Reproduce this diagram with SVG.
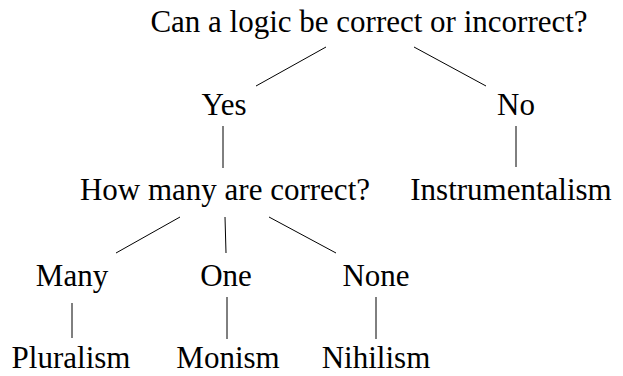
<svg xmlns="http://www.w3.org/2000/svg" width="623" height="376" viewBox="0 0 623 376">
<style>
text{font-family:"Liberation Serif","DejaVu Serif",serif;font-size:31px;fill:#000;text-anchor:middle}
line{stroke:#000;stroke-width:1}
</style>
<rect width="623" height="376" fill="#fff"/>
<g id="connectors">
<line x1="326" y1="47" x2="256" y2="86"/>
<line x1="414" y1="47" x2="486" y2="86"/>
<line x1="223" y1="126" x2="223" y2="168"/>
<line x1="516" y1="126" x2="516" y2="167"/>
<line x1="180" y1="217" x2="116" y2="253"/>
<line x1="225" y1="217" x2="226" y2="253"/>
<line x1="269" y1="217" x2="336" y2="253"/>
<line x1="72" y1="303" x2="72" y2="338"/>
<line x1="227" y1="297" x2="227" y2="339"/>
<line x1="376" y1="297" x2="376" y2="339"/>
</g>
<g id="root"><text x="369" y="32">Can a logic be correct or incorrect?</text></g>
<g id="yes"><text x="224" y="115">Yes</text></g>
<g id="no"><text x="516" y="115">No</text></g>
<g id="howmany"><text x="225" y="200">How many are correct?</text></g>
<g id="instrumentalism"><text x="511" y="200">Instrumentalism</text></g>
<g id="many"><text x="72" y="286">Many</text></g>
<g id="one"><text x="226" y="286">One</text></g>
<g id="none"><text x="376" y="286">None</text></g>
<g id="pluralism"><text x="71" y="368">Pluralism</text></g>
<g id="monism"><text x="228" y="368">Monism</text></g>
<g id="nihilism"><text x="376" y="368">Nihilism</text></g>
</svg>
